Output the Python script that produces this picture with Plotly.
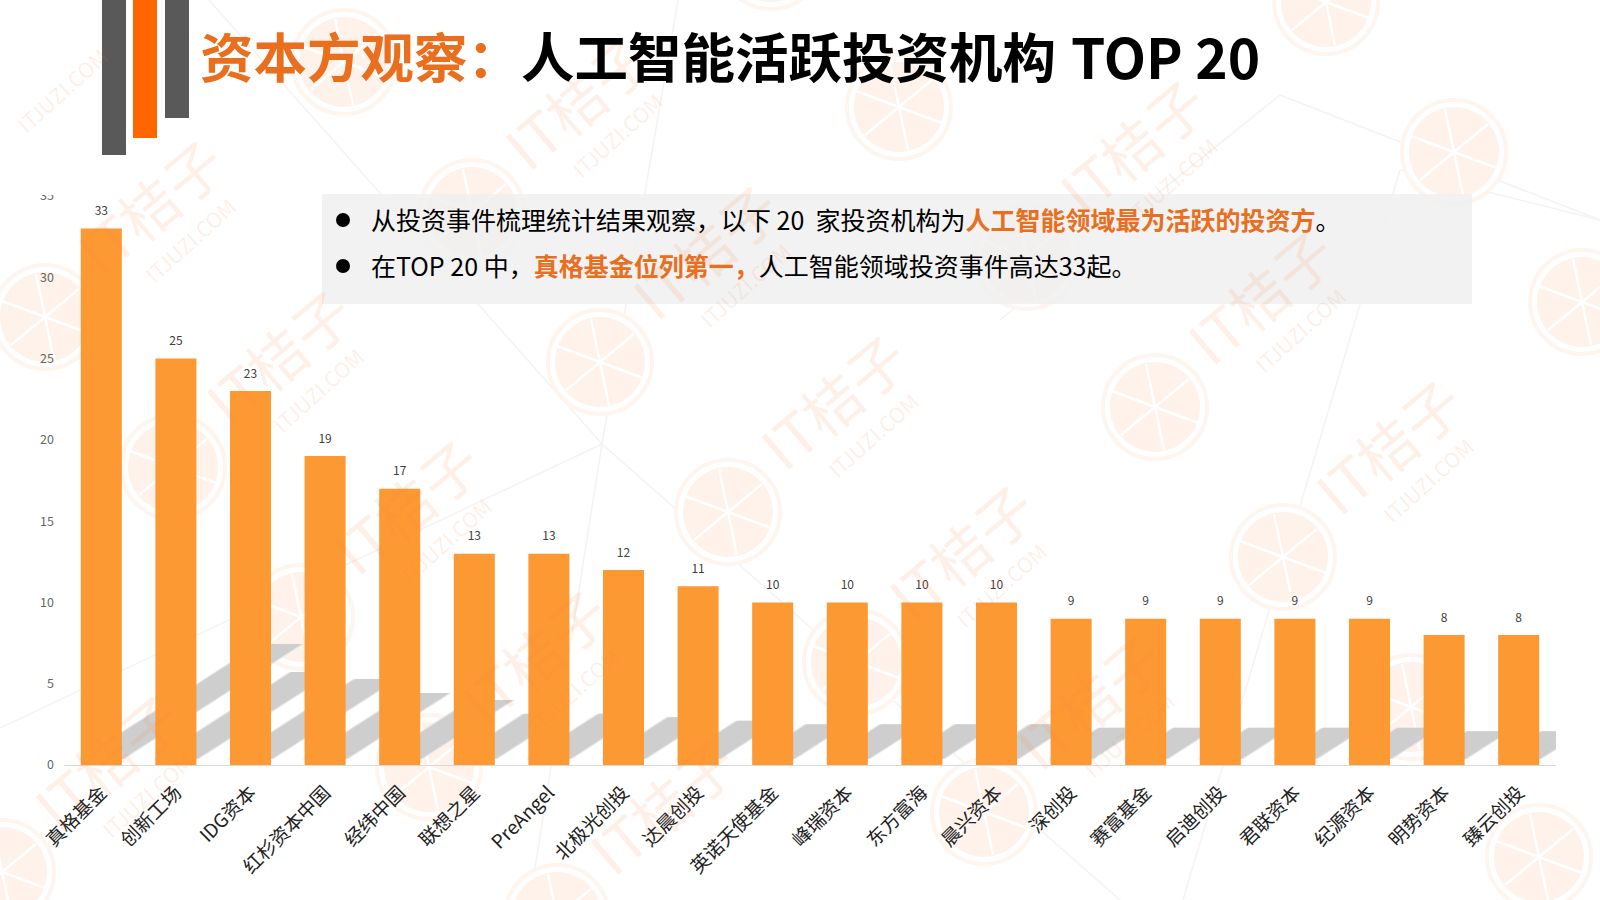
import plotly.graph_objects as go

categories = ["真格基金", "创新工场", "IDG资本", "红杉资本中国", "经纬中国", "联想之星", "PreAngel",
              "北极光创投", "达晨创投", "英诺天使基金", "峰瑞资本", "东方富海", "晨兴资本", "深创投",
              "赛富基金", "启迪创投", "君联资本", "纪源资本", "明势资本", "臻云创投"]
values = [33, 25, 23, 19, 17, 13, 13, 12, 11, 10, 10, 10, 10, 9, 9, 9, 9, 9, 8, 8]
y_ticks = [0, 5, 10, 15, 20, 25, 30, 35]

FONT = "Noto Sans CJK SC"
BAR = "#FD9933"
ORANGE = "#E96E1E"
W, H = 1600, 900
L, R, T, B = 64, 1556, 196, 765
BAR_W = 0.55
SHADOW_DX = 0.073   # category units per value
SHADOW_DY = 0.215   # value units per value
SHADOW_LIFT = 0.35
LABEL_GAP = 0.63


def px(x, y):
    return (x - L) / (R - L), (B - y) / (B - T)


shapes, annos = [], []


def rect(x0, y0, x1, y1, color, layer="below"):
    a, b = px(x0, y0)
    c, d = px(x1, y1)
    shapes.append(dict(type="rect", xref="paper", yref="paper", x0=a, y0=b, x1=c, y1=d,
                       fillcolor=color, line_width=0, layer=layer))


def seg(x0, y0, x1, y1, color, width):
    a, b = px(x0, y0)
    c, d = px(x1, y1)
    shapes.append(dict(type="line", xref="paper", yref="paper", x0=a, y0=b, x1=c, y1=d,
                       line=dict(color=color, width=width), layer="below"))


def circle(cx, cy, r, fill, line=None, lw=0):
    a, b = px(cx - r, cy + r)
    c, d = px(cx + r, cy - r)
    shapes.append(dict(type="circle", xref="paper", yref="paper", x0=a, y0=b, x1=c, y1=d,
                       fillcolor=fill, line=dict(color=line or fill, width=lw), layer="below"))


def text(x, y, s, size, color="#000000", angle=0, anchor="left"):
    a, b = px(x, y)
    annos.append(dict(xref="paper", yref="paper", x=a, y=b, text=s, showarrow=False,
                      xanchor=anchor, yanchor="middle", textangle=angle,
                      font=dict(family=FONT, size=size, color=color)))


# faint background lines
for p, q in [((209, 0), (602, 444)), ((678, 0), (602, 444)), ((602, 444), (0, 728)),
             ((602, 444), (530, 900)), ((602, 444), (1120, 900)), ((1400, 170), (1183, 900)),
             ((1280, 95), (1600, 220)), ((1280, 95), (1000, 320)), ((1600, 220), (1400, 170))]:
    seg(p[0], p[1], q[0], q[1], "#f5f3f2", 1.5)

# watermark lattice
LOGO = "#fef2ea"
WM = "rgba(245,125,55,0.12)"
for i in range(-8, 9):
    for j in range(-4, 5):
        cx = 1155 + i * 128 + j * 555
        cy = 407 + i * 150 + j * 45
        if not (-130 < cx < 1720 and -130 < cy < 1030):
            continue
        circle(cx, cy, 52, "#ffffff", "#fef5ef", 4)
        circle(cx, cy, 45, LOGO)
        for dx, dy in [(9, 43), (43, 16), (34, -28)]:
            seg(cx - dx, cy - dy, cx + dx, cy + dy, "#ffffff", 2.5)
        tx, ty = cx + 105, cy - 112
        if 90 < tx < W - 90 and 90 < ty < H - 90:
            text(tx, ty, "IT桔子", 58, WM, -40, "center")
        sx, sy = cx + 145, cy - 77
        if 60 < sx < W - 60 and 60 < sy < H - 60:
            text(sx, sy, "ITJUZI.COM", 21, WM, -42, "center")

# side bars
rect(102, 0, 126, 155, "#595959")
rect(133, 0, 157, 138, "#FF6600")
rect(165, 0, 189, 118, "#595959")

# title
text(198, 55, f'<span style="color:{ORANGE}"><b>资本方观察：</b></span><b>人工智能活跃投资机构</b>', 53.5)
text(1069, 55, "<b>TOP 20</b>", 55)

# info box
rect(322, 194, 1472, 304, "rgba(240,240,240,0.85)")
circle(343, 220, 7, "#000000")
circle(343, 266, 7, "#000000")
text(369, 219, f'从投资事件梳理统计结果观察，以下 20  家投资机构为<span style="color:{ORANGE}"><b>人工智能领域最为活跃的投资方</b></span>。', 25)
text(369, 265, f'在TOP 20 中，<span style="color:{ORANGE}"><b>真格基金位列第一，</b></span>人工智能领域投资事件高达33起。', 25)

# skewed ground shadow of each bar, derived from its value
xs = list(range(len(values)))
for grow, col in [(0.03, "#e6e6e6"), (0, "#cecece")]:
    for x, v in zip(xs, values):
        x0, x1 = x - BAR_W / 2 - grow, x + BAR_W / 2 + grow
        dx, dy = v * SHADOW_DX, v * SHADOW_DY
        shapes.append(dict(type="path", xref="x", yref="y", layer="below", line_width=0, fillcolor=col,
                           path=f"M {x0} {SHADOW_LIFT} L {x1} {SHADOW_LIFT} "
                                f"L {x1 + dx} {SHADOW_LIFT + dy} L {x0 + dx} {SHADOW_LIFT + dy} Z"))

# clip the top axis label as in the reference
rect(25, 180, 62, 195, "#ffffff", "above")

fig = go.Figure(go.Bar(x=xs, y=values, width=BAR_W, marker=dict(color=BAR, line_width=0)))
fig.add_trace(go.Scatter(
    x=xs, y=[v + LABEL_GAP for v in values], mode="text", text=values, textposition="top center",
    cliponaxis=False, textfont=dict(family=FONT, size=12, color="#404040"),
))
fig.update_layout(
    width=W, height=H, autosize=False,
    margin=dict(l=L, r=W - R, t=T, b=H - B, autoexpand=False),
    paper_bgcolor="#ffffff", plot_bgcolor="rgba(0,0,0,0)",
    showlegend=False, shapes=shapes, annotations=annos,
    xaxis=dict(range=[-0.5, len(values) - 0.5], tickmode="array", tickvals=xs, ticktext=categories,
               tickangle=-45, ticklabelstandoff=8, tickfont=dict(family=FONT, size=19, color="#222222"),
               showgrid=False, zeroline=False, showline=True, linecolor="#d9d9d9", linewidth=1, ticks=""),
    yaxis=dict(range=[0, 35], tickmode="array", tickvals=y_ticks, ticklabelstandoff=9,
               tickfont=dict(family=FONT, size=12.5, color="#666666"),
               showgrid=False, zeroline=False, showline=False, ticks=""),
)
fig.write_html("out.html", config={"displayModeBar": False}, post_script="document.body.style.margin='0';")
